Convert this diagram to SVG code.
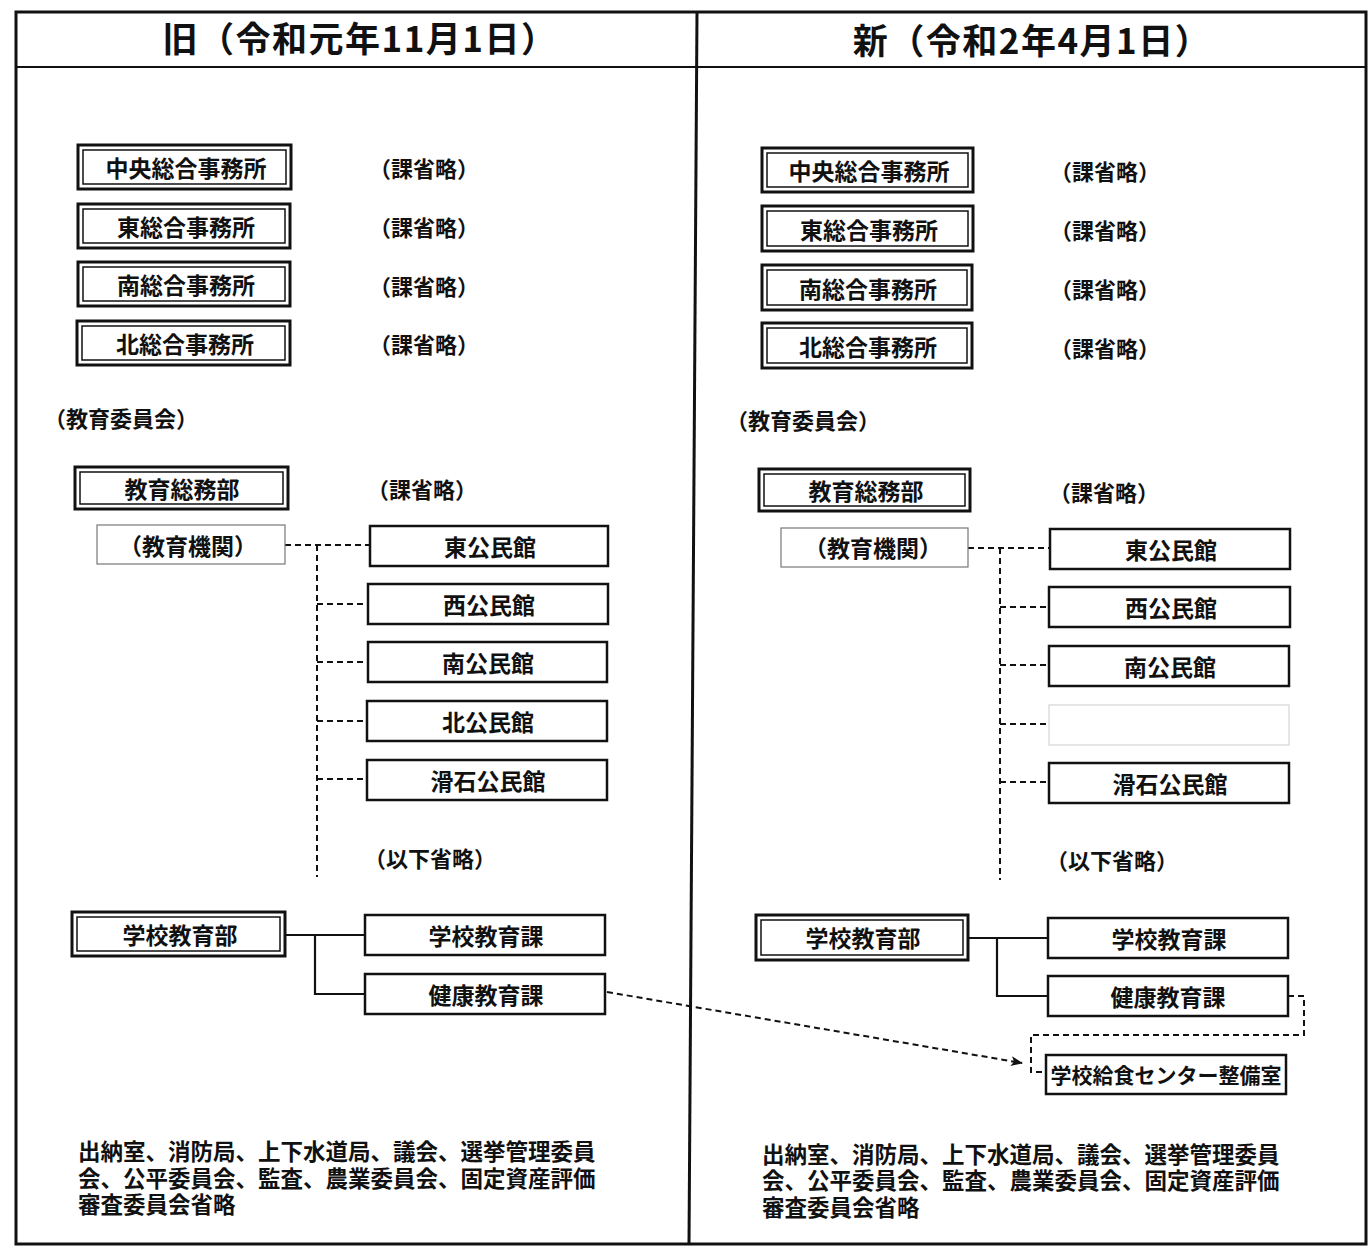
<svg xmlns="http://www.w3.org/2000/svg" width="1372" height="1246" viewBox="0 0 1372 1246">
<style>
text{font-family:"Noto Sans CJK JP","Noto Sans CJK SC",sans-serif;font-weight:700;fill:#111}
.hd{font-size:35px;letter-spacing:1.5px}
.bx{font-size:23px;text-anchor:middle;dominant-baseline:central}
.lb{font-size:22px;dominant-baseline:central}
.ft{font-size:22.5px}
.o{fill:#fff;stroke:#111;stroke-width:3}
.i{fill:none;stroke:#111;stroke-width:1.5}
.s{fill:#fff;stroke:#111;stroke-width:2.5}
.g{fill:#fff;stroke:#777;stroke-width:1.2}
.f{fill:#fff;stroke:#ccc;stroke-width:1}
.d{fill:none;stroke:#111;stroke-width:2;stroke-dasharray:6 4}
.l{fill:none;stroke:#111;stroke-width:2.2}
</style>
<defs>
<marker id="ah" viewBox="0 0 12 10" refX="11" refY="5" markerWidth="12" markerHeight="10" markerUnits="userSpaceOnUse" orient="auto">
<path d="M0,0 L12,5 L0,10 L3,5 Z" fill="#111"/>
</marker>
</defs>
<rect width="1372" height="1246" fill="#fff"/>
<g id="frame" fill="none" stroke="#111">
<rect x="16" y="12" width="1350" height="1232" stroke-width="3"/>
<line x1="16" y1="67" x2="1366" y2="67" stroke-width="2"/>
<line x1="697" y1="12" x2="689" y2="1244" stroke-width="3"/>
</g>
<g id="header-old"><text class="hd" x="360" y="52" text-anchor="middle">旧（令和元年11月1日）</text></g>
<g id="header-new"><text class="hd" x="1032" y="54" text-anchor="middle">新（令和2年4月1日）</text></g>

<g id="connectors">
<polyline class="d" points="285,545 370,545"/>
<line class="d" x1="317" y1="545" x2="317" y2="877"/>
<line class="d" x1="317" y1="604" x2="368" y2="604"/>
<line class="d" x1="317" y1="662" x2="368" y2="662"/>
<line class="d" x1="317" y1="721" x2="367" y2="721"/>
<line class="d" x1="317" y1="779" x2="367" y2="779"/>
<polyline class="l" points="285,935 365,935"/>
<polyline class="l" points="315,935 315,994 365,994"/>
<line class="d" x1="607" y1="992" x2="1022" y2="1063" marker-end="url(#ah)"/>

<polyline class="d" points="968,548 1050,548"/>
<line class="d" x1="1000" y1="548" x2="1000" y2="880"/>
<line class="d" x1="1000" y1="607" x2="1049" y2="607"/>
<line class="d" x1="1000" y1="665" x2="1049" y2="665"/>
<line class="d" x1="1000" y1="724" x2="1049" y2="724"/>
<line class="d" x1="1000" y1="782" x2="1049" y2="782"/>
<polyline class="l" points="968,938 1048,938"/>
<polyline class="l" points="997,938 997,996 1048,996"/>
<polyline class="d" points="1288,996 1304,996 1304,1035 1031,1035 1031,1072 1046,1072"/>
</g>

<!-- OLD panel -->
<g id="old-chuo"><rect class="o" x="78" y="145" width="213" height="44"/><rect class="i" x="83" y="150" width="203" height="34"/><text class="bx" x="186" y="167">中央総合事務所</text></g>
<g id="old-higashi"><rect class="o" x="78" y="204" width="212" height="44"/><rect class="i" x="83" y="209" width="202" height="34"/><text class="bx" x="186" y="226">東総合事務所</text></g>
<g id="old-minami"><rect class="o" x="78" y="262" width="212" height="44"/><rect class="i" x="83" y="267" width="202" height="34"/><text class="bx" x="186" y="284">南総合事務所</text></g>
<g id="old-kita"><rect class="o" x="77" y="321" width="213" height="44"/><rect class="i" x="82" y="326" width="203" height="34"/><text class="bx" x="185" y="343">北総合事務所</text></g>
<g id="old-omit"><text class="lb" x="369" y="167">（課省略）</text><text class="lb" x="369" y="226">（課省略）</text><text class="lb" x="369" y="285">（課省略）</text><text class="lb" x="369" y="343">（課省略）</text></g>
<g id="old-kyoiku-iinkai"><text class="lb" x="44" y="417">（教育委員会）</text></g>
<g id="old-somubu"><rect class="o" x="75" y="467" width="213" height="42"/><rect class="i" x="80" y="472" width="203" height="32"/><text class="bx" x="182" y="488">教育総務部</text></g>
<g id="old-omit2"><text class="lb" x="367" y="488">（課省略）</text></g>
<g id="old-kikan"><rect class="g" x="97" y="525" width="188" height="39"/><text class="bx" x="188" y="545">（教育機関）</text></g>
<g id="old-higashi-kominkan"><rect class="s" x="370" y="526" width="238" height="40"/><text class="bx" x="490" y="546">東公民館</text></g>
<g id="old-nishi-kominkan"><rect class="s" x="368" y="584" width="240" height="40"/><text class="bx" x="489" y="604">西公民館</text></g>
<g id="old-minami-kominkan"><rect class="s" x="368" y="642" width="239" height="40"/><text class="bx" x="488" y="662">南公民館</text></g>
<g id="old-kita-kominkan"><rect class="s" x="367" y="701" width="240" height="40"/><text class="bx" x="488" y="721">北公民館</text></g>
<g id="old-nameshi-kominkan"><rect class="s" x="367" y="760" width="240" height="40"/><text class="bx" x="488" y="780">滑石公民館</text></g>
<g id="old-ika"><text class="lb" x="364" y="857">（以下省略）</text></g>
<g id="old-gakko-bu"><rect class="o" x="72" y="912" width="213" height="44"/><rect class="i" x="77" y="917" width="203" height="34"/><text class="bx" x="180" y="934">学校教育部</text></g>
<g id="old-gakko-ka"><rect class="s" x="365" y="915" width="240" height="40"/><text class="bx" x="486" y="935">学校教育課</text></g>
<g id="old-kenko-ka"><rect class="s" x="365" y="974" width="240" height="40"/><text class="bx" x="486" y="994">健康教育課</text></g>
<g id="old-note"><text class="ft" x="78" y="1160"><tspan x="78" y="1160">出納室、消防局、上下水道局、議会、選挙管理委員</tspan><tspan x="78" y="1187">会、公平委員会、監査、農業委員会、固定資産評価</tspan><tspan x="78" y="1213">審査委員会省略</tspan></text></g>

<!-- NEW panel -->
<g id="new-chuo"><rect class="o" x="762" y="148" width="211" height="44"/><rect class="i" x="767" y="153" width="201" height="34"/><text class="bx" x="869" y="170">中央総合事務所</text></g>
<g id="new-higashi"><rect class="o" x="762" y="206" width="211" height="45"/><rect class="i" x="767" y="211" width="201" height="35"/><text class="bx" x="869" y="229">東総合事務所</text></g>
<g id="new-minami"><rect class="o" x="762" y="265" width="210" height="45"/><rect class="i" x="767" y="270" width="200" height="35"/><text class="bx" x="868" y="288">南総合事務所</text></g>
<g id="new-kita"><rect class="o" x="762" y="323" width="210" height="45"/><rect class="i" x="767" y="328" width="200" height="35"/><text class="bx" x="868" y="346">北総合事務所</text></g>
<g id="new-omit"><text class="lb" x="1050" y="170">（課省略）</text><text class="lb" x="1050" y="229">（課省略）</text><text class="lb" x="1050" y="288">（課省略）</text><text class="lb" x="1050" y="347">（課省略）</text></g>
<g id="new-kyoiku-iinkai"><text class="lb" x="726" y="419">（教育委員会）</text></g>
<g id="new-somubu"><rect class="o" x="759" y="469" width="211" height="42"/><rect class="i" x="764" y="474" width="201" height="32"/><text class="bx" x="866" y="490">教育総務部</text></g>
<g id="new-omit2"><text class="lb" x="1049" y="491">（課省略）</text></g>
<g id="new-kikan"><rect class="g" x="781" y="528" width="187" height="39"/><text class="bx" x="873" y="547">（教育機関）</text></g>
<g id="new-higashi-kominkan"><rect class="s" x="1050" y="529" width="240" height="40"/><text class="bx" x="1171" y="549">東公民館</text></g>
<g id="new-nishi-kominkan"><rect class="s" x="1049" y="587" width="241" height="40"/><text class="bx" x="1171" y="607">西公民館</text></g>
<g id="new-minami-kominkan"><rect class="s" x="1049" y="646" width="240" height="40"/><text class="bx" x="1170" y="666">南公民館</text></g>
<g id="new-blank"><rect class="f" x="1049" y="705" width="240" height="40"/></g>
<g id="new-nameshi-kominkan"><rect class="s" x="1049" y="763" width="240" height="40"/><text class="bx" x="1170" y="783">滑石公民館</text></g>
<g id="new-ika"><text class="lb" x="1046" y="859">（以下省略）</text></g>
<g id="new-gakko-bu"><rect class="o" x="756" y="915" width="212" height="45"/><rect class="i" x="761" y="920" width="202" height="35"/><text class="bx" x="863" y="937">学校教育部</text></g>
<g id="new-gakko-ka"><rect class="s" x="1048" y="918" width="240" height="40"/><text class="bx" x="1169" y="938">学校教育課</text></g>
<g id="new-kenko-ka"><rect class="s" x="1048" y="976" width="240" height="40"/><text class="bx" x="1168" y="996">健康教育課</text></g>
<g id="new-kyushoku"><rect class="s" x="1046" y="1055" width="240" height="39"/><text class="bx" x="1166" y="1074" style="font-size:21px">学校給食センター整備室</text></g>
<g id="new-note"><text class="ft" x="762" y="1163"><tspan x="762" y="1163">出納室、消防局、上下水道局、議会、選挙管理委員</tspan><tspan x="762" y="1189">会、公平委員会、監査、農業委員会、固定資産評価</tspan><tspan x="762" y="1216">審査委員会省略</tspan></text></g>
</svg>
